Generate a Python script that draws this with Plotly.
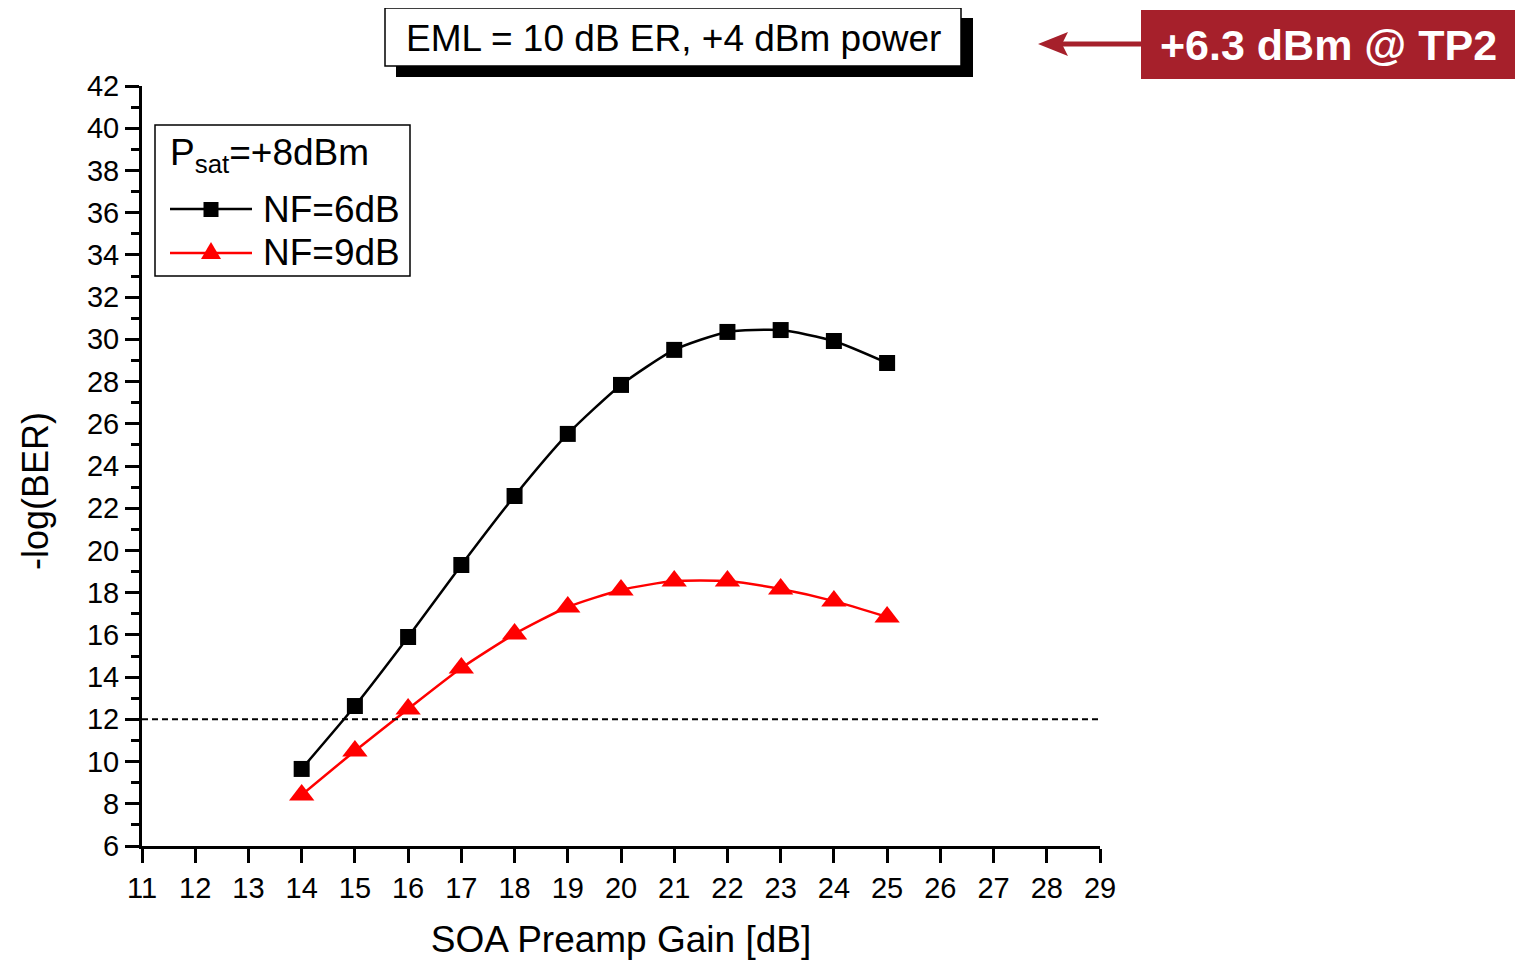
import plotly.graph_objects as go

gain = [14, 15, 16, 17, 18, 19, 20, 21, 22, 23, 24, 25]
nf6 = [9.65, 12.63, 15.9, 19.31, 22.58, 25.52, 27.84, 29.5, 30.35, 30.44, 29.92, 28.88]
nf9 = [8.42, 10.5, 12.49, 14.43, 16.04, 17.32, 18.13, 18.55, 18.55, 18.17, 17.6, 16.85]
threshold = 12
x_ticks = list(range(11, 30))
y_ticks = list(range(6, 43, 2))
y_minor = list(range(7, 42, 2))

FONT = "Liberation Sans, Arial, sans-serif"
RED_BOX = "#A6202B"
BLACK = "black"
RED = "#FF0000"

# helpers: screen pixel -> paper fraction (plot area spans 142..1100 x 86..846 on screen)
def px(x):
    return (x - 142) / 958.0


def py(y):
    return (846 - y) / 760.0


fig = go.Figure()
fig.add_trace(go.Scatter(
    x=gain, y=nf6, name="NF=6dB", mode="lines+markers",
    line=dict(color=BLACK, width=2.5, shape="spline", smoothing=0.6),
    marker=dict(symbol="square", size=16, color=BLACK),
))
fig.add_trace(go.Scatter(
    x=gain, y=nf9, name="NF=9dB", mode="lines+markers",
    line=dict(color=RED, width=2.5, shape="spline", smoothing=0.6),
    marker=dict(symbol="triangle-up", size=22, color=RED),
))

# threshold dashed line
fig.add_shape(type="line", xref="x", yref="y", x0=x_ticks[0], x1=x_ticks[-1],
              y0=threshold, y1=threshold, line=dict(color=BLACK, width=2, dash="6px,4px"))

# title box with shadow
fig.add_shape(type="rect", xref="paper", yref="paper",
              x0=px(396), x1=px(973), y0=py(77), y1=py(18),
              fillcolor=BLACK, line=dict(width=0), layer="above")
fig.add_shape(type="rect", xref="paper", yref="paper",
              x0=px(385), x1=px(961), y0=py(66), y1=py(8),
              fillcolor="white", line=dict(color=BLACK, width=1.5), layer="above")
fig.add_annotation(xref="paper", yref="paper", x=px(673), y=py(38),
                   xanchor="center", yanchor="middle",
                   text="EML = 10 dB ER, +4 dBm power", showarrow=False,
                   font=dict(family=FONT, size=37, color=BLACK))

# red label box and arrow
fig.add_shape(type="rect", xref="paper", yref="paper",
              x0=px(1141), x1=px(1515), y0=py(79), y1=py(10),
              fillcolor=RED_BOX, line=dict(width=0), layer="above")
fig.add_annotation(xref="paper", yref="paper", x=px(1328), y=py(45),
                   xanchor="center", yanchor="middle",
                   text="<b>+6.3 dBm @ TP2</b>", showarrow=False,
                   font=dict(family=FONT, size=43, color="white"))
fig.add_shape(type="line", xref="paper", yref="paper",
              x0=px(1060), x1=px(1141), y0=py(44), y1=py(44),
              line=dict(color=RED_BOX, width=5), layer="above")
fig.add_shape(type="path", xref="paper", yref="paper", xsizemode="pixel", ysizemode="pixel",
              xanchor=px(1038), yanchor=py(44), path="M 0 0 L 30 12 L 24 0 L 30 -12 Z",
              fillcolor=RED_BOX, line=dict(width=0), layer="above")

# legend (drawn manually to match the long sample lines)
fig.add_shape(type="rect", xref="paper", yref="paper",
              x0=px(155), x1=px(410), y0=py(276), y1=py(125),
              fillcolor="white", line=dict(color=BLACK, width=1.5), layer="above")
fig.add_annotation(xref="paper", yref="paper", x=px(168), y=py(155),
                   xanchor="left", yanchor="middle", showarrow=False,
                   text="P<sub>sat</sub>=+8dBm",
                   font=dict(family=FONT, size=37, color=BLACK))
legend_rows = [("NF=6dB", BLACK, 209), ("NF=9dB", RED, 253)]
for label, color, yrow in legend_rows:
    fig.add_shape(type="line", xref="paper", yref="paper",
                  x0=px(170), x1=px(252), y0=py(yrow), y1=py(yrow),
                  line=dict(color=color, width=2.5), layer="above")
    fig.add_annotation(xref="paper", yref="paper", x=px(261), y=py(yrow),
                       xanchor="left", yanchor="middle", showarrow=False,
                       text=label, font=dict(family=FONT, size=37, color=BLACK))
# legend symbols
fig.add_shape(type="rect", xref="paper", yref="paper", xsizemode="pixel", ysizemode="pixel",
              xanchor=px(211), yanchor=py(209.5), x0=-7.5, x1=7.5, y0=-7.5, y1=7.5,
              fillcolor=BLACK, line=dict(width=0), layer="above")
fig.add_shape(type="path", xref="paper", yref="paper", xsizemode="pixel", ysizemode="pixel",
              xanchor=px(211), yanchor=py(251), path="M -10 -8 L 10 -8 L 0 9 Z",
              fillcolor=RED, line=dict(width=0), layer="above")

# y axis title (placed as in the reference, slightly below the axis centre)
fig.add_annotation(xref="paper", yref="paper", x=px(35), y=py(491),
                   xanchor="center", yanchor="middle", textangle=-90, showarrow=False,
                   text="-log(BER)", font=dict(family=FONT, size=36, color=BLACK))

axis_common = dict(showline=True, linecolor=BLACK, linewidth=3, ticks="outside",
                   tickwidth=3, tickcolor=BLACK, ticklen=14, showgrid=False,
                   zeroline=False, tickfont=dict(family=FONT, size=29, color=BLACK))

fig.update_xaxes(range=[11, 29], tickmode="array", tickvals=x_ticks,
                 title=dict(text="SOA Preamp Gain [dB]", font=dict(family=FONT, size=37, color=BLACK),
                            standoff=24),
                 **axis_common)
fig.update_yaxes(range=[6, 42], tickmode="array", tickvals=y_ticks,
                 minor=dict(tickvals=y_minor, ticks="outside", ticklen=8,
                            tickwidth=3, tickcolor=BLACK),
                 **axis_common)

fig.update_layout(
    width=1516, height=952,
    margin=dict(l=134, r=424, t=78, b=114, autoexpand=False),
    plot_bgcolor="white", paper_bgcolor="white",
    showlegend=False,
)

fig.write_html("out.html")
